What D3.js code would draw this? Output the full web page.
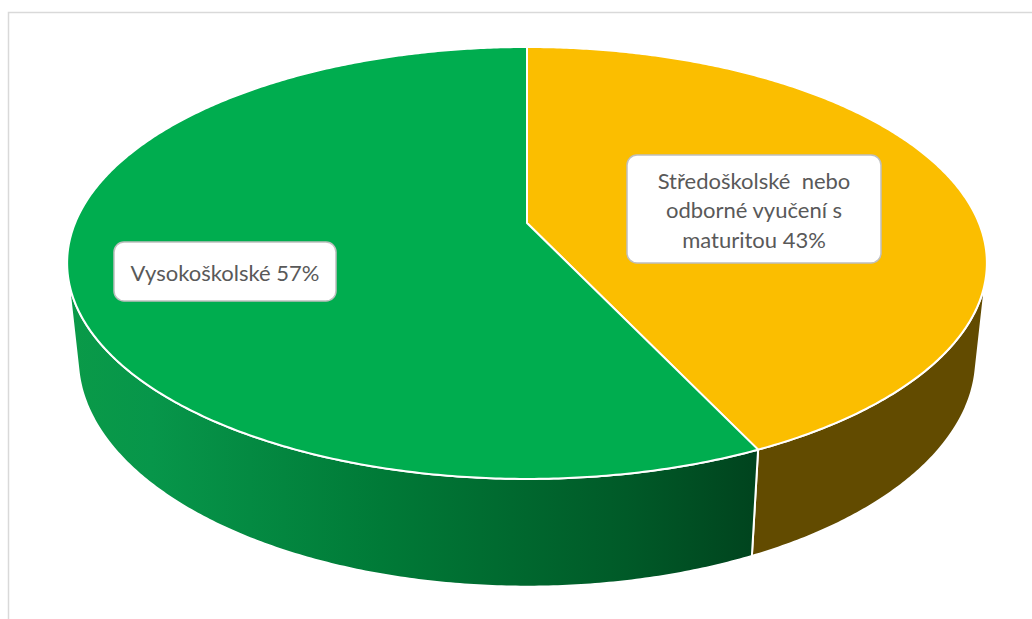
<!DOCTYPE html>
<html>
<head>
<meta charset="utf-8">
<script src="https://cdn.jsdelivr.net/npm/d3@7"></script>
<style>
  html, body { margin: 0; padding: 0; background: #fff; }
  svg { display: block; }
</style>
</head>
<body>
<script>
// Education level shares (percent)
const categories = ["Středoškolské  nebo odborné vyučení s maturitou", "Vysokoškolské"];
const shares = [43, 57];
// Category text broken into label lines; the share is appended to the last line
const labelLines = [["Středoškolské  nebo", "odborné vyučení s", "maturitou"], ["Vysokoškolské"]];
const topColors = ["#fbbe00", "#00ad4f"];
const sideColors = ["#624b00", "url(#greenSide)"];

const W = 1032, H = 619;
const svg = d3.select("body").append("svg").attr("width", W).attr("height", H);

// chart area frame (continues past the right and bottom edges)
svg.append("path")
  .attr("d", `M8.5,${H} V12.5 H${W}`)
  .attr("fill", "none").attr("stroke", "#d9d9d9").attr("stroke-width", 1.5);

// shaded gradient for the green slice's rim
const defs = svg.append("defs");
const g1 = defs.append("linearGradient").attr("id", "greenSide")
  .attr("gradientUnits", "userSpaceOnUse")
  .attr("x1", 68).attr("x2", 765).attr("y1", 0).attr("y2", 0);
[[0, "#0a9a48"], [0.12, "#07964a"], [0.45, "#007a37"], [0.8, "#005a28"], [1, "#00421d"]]
  .forEach(([o, c]) => g1.append("stop").attr("offset", o).attr("stop-color", c));

// perspective camera looking down on a unit-radius disc
const cx = 527, cy = 223;
const alpha = Math.asin(0.4615);           // elevation of the camera
const sinA = Math.sin(alpha), cosA = Math.cos(alpha);
const camDist = 4.795;                      // camera distance in radii
const focal = 2167;                         // focal length in px
const thickness = 0.24;                     // disc thickness in radii

function project(x, y, z) {                 // x right, y up, z toward viewer
  const zc = camDist - y * sinA - z * cosA;
  const yc = y * cosA - z * sinA;
  return [cx + focal * x / zc, cy - focal * yc / zc];
}
// point on the rim at pie angle a (0 = 12 o'clock, clockwise) on the top or bottom face
const rim = (a, level) => project(Math.sin(a), level, -Math.cos(a));

const pie = d3.pie().sort(null).value(d => d);
const arcs = pie(shares);
const line = d3.line();
const step = Math.PI / 360;
const sample = (a0, a1) => {
  const n = Math.max(2, Math.ceil((a1 - a0) / step));
  return d3.range(n + 1).map(i => a0 + (a1 - a0) * i / n);
};

// the rim is visible where it faces the camera
const gen = Math.acos(-1 / (camDist * cosA));
const visFrom = gen, visTo = 2 * Math.PI - gen;

const sides = svg.append("g");
arcs.forEach((d, i) => {
  const a0 = Math.max(d.startAngle, visFrom), a1 = Math.min(d.endAngle, visTo);
  if (a1 <= a0) return;
  const angles = sample(a0, a1);
  const pts = angles.map(a => rim(a, 0))
    .concat(angles.slice().reverse().map(a => rim(a, -thickness)));
  sides.append("path")
    .attr("d", line(pts) + "Z")
    .attr("fill", sideColors[i])
    .attr("stroke", "#fff").attr("stroke-width", 2).attr("stroke-linejoin", "round");
});

const tops = svg.append("g");
arcs.forEach((d, i) => {
  const pts = [project(0, 0, 0)].concat(sample(d.startAngle, d.endAngle).map(a => rim(a, 0)));
  tops.append("path")
    .attr("d", line(pts) + "Z")
    .attr("fill", topColors[i])
    .attr("stroke", "#fff").attr("stroke-width", 2).attr("stroke-linejoin", "round");
});

// data labels
const boxes = [
  { cx: 754, cy: 209, w: 254, h: 108 },
  { cx: 225, cy: 271.5, w: 222, h: 59 }
];
const fontSize = 22, lineH = 29.5;
const labels = svg.append("g")
  .attr("font-family", "Lato, 'Open Sans', sans-serif")
  .attr("font-size", fontSize).attr("fill", "#595959");
arcs.forEach((d, i) => {
  const b = boxes[i];
  const lines = labelLines[i].slice();
  lines[lines.length - 1] += " " + shares[i] + "%";
  labels.append("rect")
    .attr("x", b.cx - b.w / 2).attr("y", b.cy - b.h / 2)
    .attr("width", b.w).attr("height", b.h).attr("rx", 10)
    .attr("fill", "#fff").attr("stroke", "#bfbfbf").attr("stroke-width", 1.5);
  const t = labels.append("text").attr("text-anchor", "middle").style("white-space", "pre");
  lines.forEach((s, j) => {
    t.append("tspan")
      .attr("x", b.cx)
      .attr("y", b.cy + 1.5 + (j - (lines.length - 1) / 2) * lineH)
      .attr("dy", "0.35em")
      .text(s);
  });
});
</script>
</body>
</html>
